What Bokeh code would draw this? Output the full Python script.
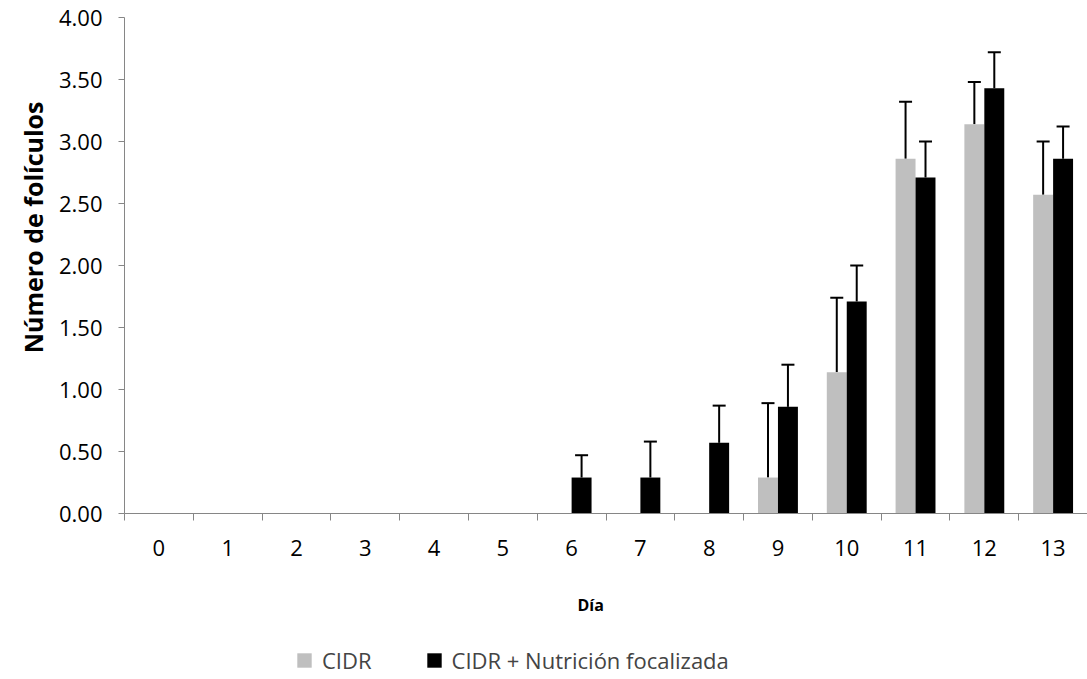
from bokeh.plotting import figure
from bokeh.layouts import column
from bokeh.models import (ColumnDataSource, Range1d, FixedTicker, Whisker, TeeHead,
                          Legend, LegendItem, NumeralTickFormatter, Title)
from bokeh.transform import dodge
from bokeh.embed import file_html
from bokeh.resources import INLINE

days = [0, 1, 2, 3, 4, 5, 6, 7, 8, 9, 10, 11, 12, 13]
day_labels = [str(d) for d in days]
cidr = [0, 0, 0, 0, 0, 0, 0, 0, 0, 0.29, 1.14, 2.86, 3.14, 2.57]
cidr_err = [0, 0, 0, 0, 0, 0, 0, 0, 0, 0.60, 0.60, 0.46, 0.34, 0.43]
cidr_nut = [0, 0, 0, 0, 0, 0, 0.29, 0.29, 0.57, 0.86, 1.71, 2.71, 3.43, 2.86]
cidr_nut_err = [0, 0, 0, 0, 0, 0, 0.18, 0.29, 0.30, 0.34, 0.29, 0.29, 0.29, 0.26]

series_names = ["CIDR", "CIDR + Nutrición focalizada"]
colors = ["#BFBFBF", "#000000"]
FONT = "Open Sans"
AXIS_COLOR = "#868686"

p = figure(width=1087, height=648, output_backend="svg", toolbar_location=None,
           x_range=Range1d(-0.5, 13.5), y_range=Range1d(0, 4),
           min_border_left=124, min_border_right=0, min_border_top=17, min_border_bottom=134)
p.outline_line_color = None
p.xgrid.grid_line_color = None
p.ygrid.grid_line_color = None

src = ColumnDataSource(dict(days=days, cidr=cidr, nut=cidr_nut))
r1 = p.vbar(x=dodge("days", -0.145, range=p.x_range), top="cidr", width=0.29,
            source=src, fill_color=colors[0], line_color=None)
r2 = p.vbar(x=dodge("days", 0.145, range=p.x_range), top="nut", width=0.29,
            source=src, fill_color=colors[1], line_color=None)

def add_err(vals, errs, off):
    xs = [d for d, e in zip(days, errs) if e > 0]
    lo = [v for v, e in zip(vals, errs) if e > 0]
    hi = [v + e for v, e in zip(vals, errs) if e > 0]
    s = ColumnDataSource(dict(x=xs, lo=lo, hi=hi))
    w = Whisker(base=dodge("x", off, range=p.x_range), lower="lo", upper="hi", source=s,
                dimension="height", line_color="black", line_width=2,
                lower_head=None,
                upper_head=TeeHead(size=13, line_color="black", line_width=2))
    p.add_layout(w)

add_err(cidr, cidr_err, -0.145)
add_err(cidr_nut, cidr_nut_err, 0.145)

# x axis
xt = FixedTicker(ticks=days, minor_ticks=[d - 0.5 for d in days] + [days[-1] + 0.5])
p.xaxis.ticker = xt
p.xaxis.major_label_overrides = {d: l for d, l in zip(days, day_labels)}
p.xaxis.major_tick_line_color = None
p.xaxis.major_tick_out = 0
p.xaxis.major_tick_in = 0
p.xaxis.minor_tick_line_color = AXIS_COLOR
p.xaxis.minor_tick_out = 7
p.xaxis.minor_tick_in = 0
p.xaxis.major_label_standoff = 19

# y axis
p.yaxis.ticker = FixedTicker(ticks=[0, 0.5, 1, 1.5, 2, 2.5, 3, 3.5, 4], minor_ticks=[])
p.yaxis.formatter = NumeralTickFormatter(format="0.00")
p.yaxis.major_tick_line_color = AXIS_COLOR
p.yaxis.major_tick_out = 6
p.yaxis.major_tick_in = 0
p.yaxis.minor_tick_line_color = None
p.yaxis.major_label_standoff = 16

for ax in (p.xaxis, p.yaxis):
    ax.axis_line_color = AXIS_COLOR
    ax.axis_line_width = 1
    ax.major_label_text_font = FONT
    ax.major_label_text_font_size = "22px"
    ax.major_label_text_color = "black"

ytitle = Title(text="Número de folículos", align="right", offset=84,
               text_font=FONT, text_font_style="bold", text_font_size="25px",
               text_color="black", standoff=12)
p.add_layout(ytitle, "left")

xtitle = Title(text="Día", align="left", offset=453,
               text_font=FONT, text_font_style="bold", text_font_size="16px",
               text_color="black", standoff=66)
p.add_layout(xtitle, "below")

# legend strip below the chart (legend glyphs use the same data, drawn out of view)
lg = figure(width=1087, height=31, output_backend="svg", toolbar_location=None,
            x_axis_location=None, y_axis_location=None,
            x_range=Range1d(-0.5, 13.5), y_range=Range1d(10, 11),
            min_border=0, min_border_left=0, min_border_right=0,
            min_border_top=0, min_border_bottom=0)
lg.outline_line_color = None
lg.xgrid.grid_line_color = None
lg.ygrid.grid_line_color = None
k1 = lg.vbar(x="days", top="cidr", width=0.29, source=src, fill_color=colors[0], line_color=None)
k2 = lg.vbar(x="days", top="nut", width=0.29, source=src, fill_color=colors[1], line_color=None)
legend = Legend(items=[LegendItem(label=series_names[0], renderers=[k1]),
                       LegendItem(label=series_names[1], renderers=[k2])],
                orientation="horizontal", location=(171, 4),
                label_text_font=FONT, label_text_font_size="22px",
                glyph_width=18, glyph_height=18, label_standoff=9, spacing=53,
                padding=0, margin=0, border_line_color=None, background_fill_alpha=0,
                label_height=22)
lg.add_layout(legend, "center")

open("out.html", "w").write(file_html(column(p, lg, spacing=0), INLINE))
